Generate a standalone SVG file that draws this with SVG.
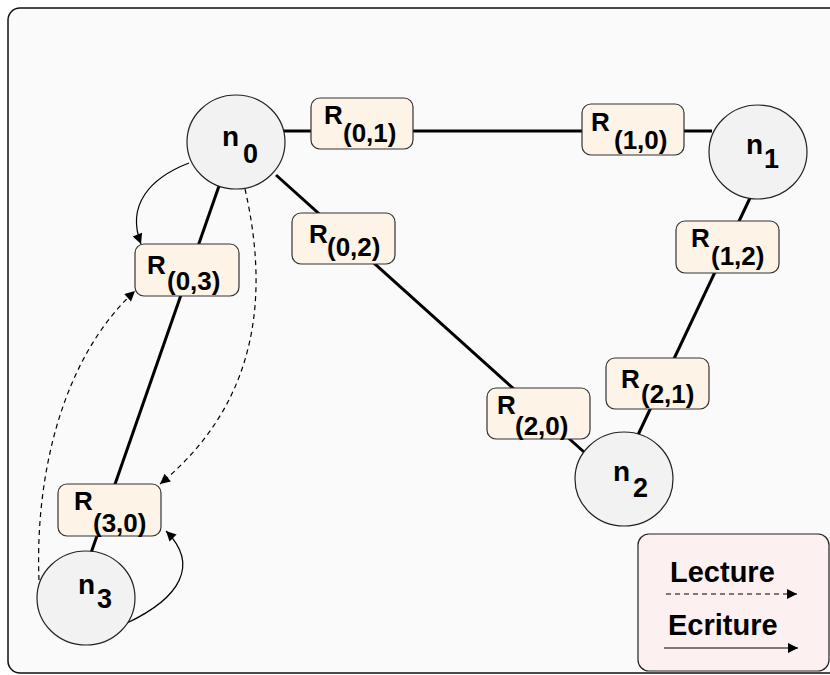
<svg xmlns="http://www.w3.org/2000/svg" width="830" height="675" viewBox="0 0 830 675">
<defs>
<marker id="ah" viewBox="0 0 10 10" refX="10" refY="5" markerWidth="13" markerHeight="10" markerUnits="userSpaceOnUse" orient="auto">
<path d="M0,0 L10,5 L0,10 z" fill="#000"/>
</marker>
<style>
.node ellipse{fill:#f2f2f2;stroke:#222;stroke-width:1.2}
.res rect{fill:#fdf3e6;stroke:#333;stroke-width:1.2}
text{font-family:"Liberation Sans",Arial,sans-serif;font-weight:bold;fill:#000}
.lbl{font-size:26px}
.nl{font-size:28px}
.ns{font-size:27px}
.leg{font-size:29px}
.thick{stroke:#000;stroke-width:3;fill:none}
.wr{stroke:#000;stroke-width:1.2;fill:none;marker-end:url(#ah)}
.rd{stroke:#000;stroke-width:1.2;fill:none;stroke-dasharray:5,4;marker-end:url(#ah)}
</style>
</defs>
<rect x="8" y="8" width="840" height="665" rx="12" fill="#fafafa" stroke="#111" stroke-width="1.5"/>
<g id="connectors">
<line class="thick" x1="283" y1="131" x2="712" y2="131"/>
<line class="thick" x1="276" y1="175" x2="584" y2="452"/>
<line class="thick" x1="750" y1="198" x2="637" y2="437"/>
<line class="thick" x1="219" y1="186" x2="91" y2="553"/>
<path class="wr" d="M189,163 C150,178 126,205 141,244"/>
<path class="rd" d="M245,189 C268,290 262,400 160,484"/>
<path class="rd" d="M39,580 C35,480 60,360 135,291"/>
<path class="wr" d="M127,623 C180,598 200,565 166,531"/>
</g>
<g id="n0" class="node"><ellipse cx="236" cy="142" rx="49" ry="47"/><text class="nl" x="222" y="146">n</text><text class="ns" x="243" y="163">0</text></g>
<g id="n1" class="node"><ellipse cx="758" cy="152" rx="49" ry="47"/><text class="nl" x="746" y="154">n</text><text class="ns" x="764" y="168">1</text></g>
<g id="n2" class="node"><ellipse cx="624" cy="479" rx="49" ry="47"/><text class="nl" x="613" y="481">n</text><text class="ns" x="633" y="497">2</text></g>
<g id="n3" class="node"><ellipse cx="86" cy="598" rx="49" ry="47"/><text class="nl" x="78" y="594">n</text><text class="ns" x="97" y="608">3</text></g>
<g id="r01" class="res"><rect x="311" y="98" width="102" height="51" rx="9"/><text class="lbl" x="324" y="124">R</text><text class="lbl" x="343" y="142">(0,1)</text></g>
<g id="r10" class="res"><rect x="582" y="104" width="102" height="51" rx="9"/><text class="lbl" x="591" y="131">R</text><text class="lbl" x="614" y="149">(1,0)</text></g>
<g id="r12" class="res"><rect x="676" y="221" width="103" height="52" rx="9"/><text class="lbl" x="691" y="247">R</text><text class="lbl" x="711" y="265">(1,2)</text></g>
<g id="r21" class="res"><rect x="606" y="358" width="103" height="51" rx="9"/><text class="lbl" x="621" y="388">R</text><text class="lbl" x="641" y="403">(2,1)</text></g>
<g id="r20" class="res"><rect x="487" y="388" width="103" height="51" rx="9"/><text class="lbl" x="497" y="414">R</text><text class="lbl" x="515" y="435">(2,0)</text></g>
<g id="r02" class="res"><rect x="292" y="213" width="103" height="51" rx="9"/><text class="lbl" x="309" y="243">R</text><text class="lbl" x="327" y="256">(0,2)</text></g>
<g id="r03" class="res"><rect x="135" y="244" width="104" height="52" rx="9"/><text class="lbl" x="147" y="274">R</text><text class="lbl" x="167" y="290">(0,3)</text></g>
<g id="r30" class="res"><rect x="58" y="484" width="103" height="52" rx="9"/><text class="lbl" x="74" y="510">R</text><text class="lbl" x="93" y="532">(3,0)</text></g>
<g id="legend">
<rect x="638" y="534" width="191" height="137" rx="11" fill="#fdf0f0" stroke="#222" stroke-width="1.2"/>
<text class="leg" x="670" y="582">Lecture</text>
<line class="rd" x1="666" y1="594" x2="797" y2="594"/>
<text class="leg" x="668" y="635">Ecriture</text>
<line class="wr" x1="664" y1="648" x2="798" y2="648"/>
</g>
</svg>
